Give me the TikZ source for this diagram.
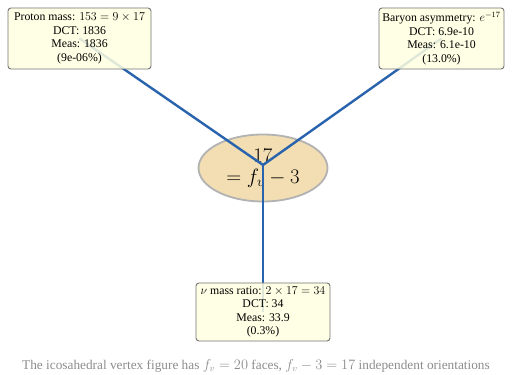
\documentclass[tikz,border=0pt]{standalone}
\usepackage{fontspec}
\setmainfont{Liberation Serif}
\usetikzlibrary{shapes.geometric}
\definecolor{linkblue}{rgb}{0.16,0.39,0.68}
\definecolor{boxyellow}{rgb}{1.00,1.00,0.88}
\definecolor{hubwheat}{rgb}{0.95,0.87,0.70}
\tikzset{
  hub/.style={
    ellipse,
    draw=black!30,
    line width=1.8pt,
    fill=hubwheat,
    minimum width=129pt,
    minimum height=67pt,
    inner sep=0pt,
    align=center,
    font=\fontsize{20}{21}\selectfont
  },
  result/.style={
    rounded corners=3pt,
    draw=black!55,
    line width=0.9pt,
    fill=boxyellow,
    fill opacity=0.85,
    text opacity=1,
    align=center,
    inner sep=2pt,
    font=\fontsize{11.8}{13.5}\selectfont
  },
  link/.style={
    line width=2.4pt,
    linkblue
  }
}
\begin{document}
\begin{tikzpicture}[x=1pt,y=1pt]
\useasboundingbox (0,0) rectangle (512,375);
\node[hub] (hub) at (263,207) {$17$\\$=f_v-3$};
\coordinate (hc) at (263,210);
\coordinate (pc) at (79.5,336.5);
\coordinate (bc) at (441.5,336.5);
\coordinate (nc) at (263,63);
\draw[link] (hc) -- (pc);
\draw[link] (hc) -- (bc);
\draw[link] (hc) -- (nc);
\node[result, minimum width=143pt, minimum height=61pt] (proton) at (pc) {Proton mass: $153=9\times17$\\DCT: 1836\\Meas: 1836\\(9e-06\%)};
\node[result, minimum width=125pt, minimum height=61pt] (baryon) at (bc) {Baryon asymmetry: $e^{-17}$\\DCT: 6.9e-10\\Meas: 6.1e-10\\(13.0\%)};
\node[result, minimum width=134pt, minimum height=58pt] (nu) at (nc) {$\nu$ mass ratio: $2\times17=34$\\DCT: 34\\Meas: 33.9\\(0.3\%)};
\node[text=black!45, font=\fontsize{13.3}{14}\selectfont] (caption) at (256,9) {The icosahedral vertex figure has $f_v=20$ faces, $f_v-3=17$ independent orientations};
\end{tikzpicture}
\end{document}
